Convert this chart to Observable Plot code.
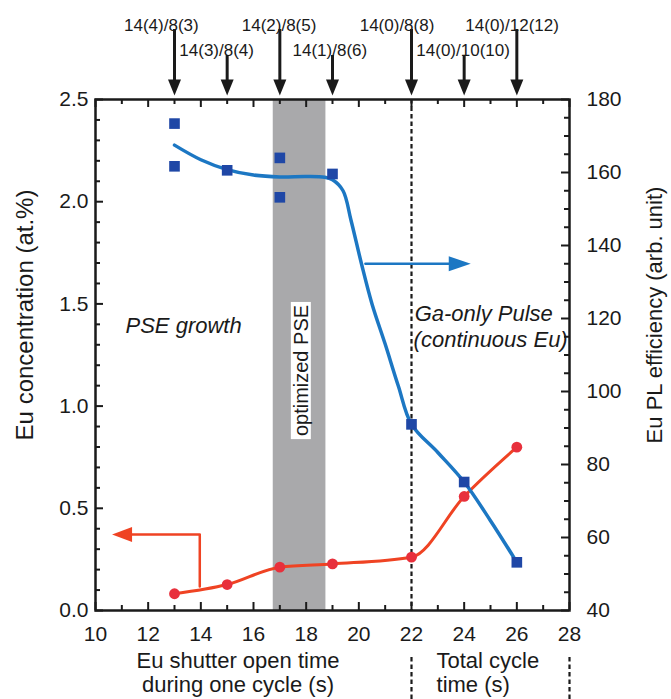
<!DOCTYPE html>
<html><head><meta charset="utf-8">
<script src="https://cdn.jsdelivr.net/npm/d3@7"></script>
<script src="https://cdn.jsdelivr.net/npm/@observablehq/plot@0.6"></script>
<style>body{margin:0;background:#fff;}</style>
</head><body><div id="chart"></div>
<script>
// ---- data ----
const euTime = [13, 15, 17, 19, 22, 24, 26];
const euConc = [0.082, 0.127, 0.212, 0.228, 0.261, 0.558, 0.799];

const plTime = [13, 13, 15, 17, 17, 19, 22, 24, 26];
const plEff  = [173.4, 161.7, 160.6, 164.0, 153.2, 159.6, 91.0, 75.2, 53.2];

// fitted (smooth) PL curve
const plFitTime = [13, 14, 15, 16, 17, 18, 18.7, 19.0, 19.4, 19.7, 20.1, 20.5, 21, 21.5, 22, 23, 24, 25, 26];
const plFitEff  = [167.5, 163.5, 160.8, 159.3, 158.8, 158.9, 158.7, 158.0, 155, 147, 135, 124, 113, 101.5, 91, 83.3, 75.2, 64.6, 53.2];

const xTickLabels = [10, 12, 14, 16, 18, 20, 22, 24, 26, 28];
const leftTickLabels = [0.0, 0.5, 1.0, 1.5, 2.0, 2.5];
const rightTickLabels = [40, 60, 80, 100, 120, 140, 160, 180];

const topLabels = ["14(4)/8(3)", "14(3)/8(4)", "14(2)/8(5)", "14(1)/8(6)", "14(0)/8(8)", "14(0)/10(10)", "14(0)/12(12)"];
const topArrowX = [13, 15, 17, 19, 22, 24, 26];
const topLabelX = [12.5, 14.6, 16.97, 18.9, 21.45, 23.96, 25.82];
const topRow    = [1, 2, 1, 2, 1, 2, 1];

const bandStart = [16.75], bandEnd = [18.75];

// ---- helpers ----
const rightDomain = [40, 180], leftDomain = [0, 2.5];
const toLeft = v => (v - rightDomain[0]) / (rightDomain[1] - rightDomain[0]) * (leftDomain[1] - leftDomain[0]);
const fromLeft = v => v / (leftDomain[1] - leftDomain[0]) * (rightDomain[1] - rightDomain[0]) + rightDomain[0];

const W = 671, H = 699, mL = 95, mR = 102, mT = 99, mB = 89;
const plotW = W - mL - mR, plotH = H - mT - mB;

const red = [], blue = [], blueFit = [], tops = [];
euTime.forEach((t, i) => red.push({x: t, y: euConc[i]}));
plTime.forEach((t, i) => blue.push({x: t, y: toLeft(plEff[i])}));
plFitTime.forEach((t, i) => blueFit.push({x: t, y: toLeft(plFitEff[i])}));
topLabels.forEach((s, i) => tops.push({label: s, ax: topArrowX[i], lx: topLabelX[i], row: topRow[i]}));

const downHead  = {draw(c){ c.moveTo(-6.5,-16); c.lineTo(6.5,-16); c.lineTo(0,0); c.closePath(); }};
const rightHead = {draw(c){ c.moveTo(0,0); c.lineTo(-22,-7.5); c.lineTo(-22,7.5); c.closePath(); }};
const leftHead  = {draw(c){ c.moveTo(0,0); c.lineTo(20,-7.5); c.lineTo(20,7.5); c.closePath(); }};

const BLUE_LINE = "#1c77c3", BLUE_PT = "#1f47a6", RED_LINE = "#ef4323", RED_PT = "#e8303c", INK = "#1a1a1a";
const FONT = "'Liberation Sans', Arial, Helvetica, sans-serif";

const chart = Plot.plot({
  width: W, height: H,
  marginLeft: mL, marginRight: mR, marginTop: mT, marginBottom: mB,
  style: {fontFamily: FONT, fontSize: "21px", color: INK, background: "#fff", overflow: "visible"},
  x: {domain: [10, 28]},
  y: {domain: leftDomain},
  marks: [
    // optimized PSE band
    Plot.rect(bandStart.map((s, i) => ({x1: s, x2: bandEnd[i]})), {x1: "x1", x2: "x2", fill: "#a9a9ab"}),
    // dashed separator
    Plot.ruleX([22], {stroke: INK, strokeWidth: 2.2, strokeDasharray: "4.5,3"}),
    Plot.tickX([22, 28], {stroke: INK, strokeWidth: 2.2, strokeDasharray: "4.5,3", insetTop: plotH + 47, insetBottom: -mB}),
    // red series
    Plot.line(red, {x: "x", y: "y", stroke: RED_LINE, strokeWidth: 3, curve: "monotone-x"}),
    // blue fitted curve
    Plot.line(blueFit, {x: "x", y: "y", stroke: BLUE_LINE, strokeWidth: 3.5, curve: "catmull-rom"}),
    Plot.dot(red, {x: "x", y: "y", r: 5.4, fill: RED_PT, stroke: "none"}),
    Plot.dot(blue, {x: "x", y: "y", r: 6, symbol: "square", fill: BLUE_PT, stroke: "none"}),
    // red arrow (points to left axis)
    Plot.line([{x: 13.96, y: 0.117}, {x: 13.96, y: 0.372}, {x: 11.3, y: 0.372}], {x: "x", y: "y", stroke: RED_LINE, strokeWidth: 2.5, curve: "linear"}),
    Plot.dot([{x: 10.63, y: 0.372}], {x: "x", y: "y", symbol: leftHead, fill: RED_LINE, stroke: "none"}),
    // blue arrow (points to right axis)
    Plot.line([{x: 20.25, y: toLeft(135)}, {x: 23.5, y: toLeft(135)}], {x: "x", y: "y", stroke: BLUE_LINE, strokeWidth: 2.5}),
    Plot.dot([{x: 24.25, y: toLeft(135)}], {x: "x", y: "y", symbol: rightHead, fill: BLUE_LINE, stroke: "none"}),
    // frame
    Plot.frame({stroke: INK, strokeWidth: 2.5}),
    // inward ticks
    Plot.tickX(xTickLabels, {x: d => d, stroke: INK, strokeWidth: 2, insetTop: plotH - 8}),
    Plot.tickX(d3.range(11, 28, 2), {x: d => d, stroke: INK, strokeWidth: 2, insetTop: plotH - 5}),
    Plot.tickX(xTickLabels, {x: d => d, stroke: INK, strokeWidth: 2, insetBottom: plotH - 8}),
    Plot.tickX(d3.range(11, 28, 2), {x: d => d, stroke: INK, strokeWidth: 2, insetBottom: plotH - 5}),
    Plot.tickY(leftTickLabels, {y: d => d, stroke: INK, strokeWidth: 2, insetRight: plotW - 8}),
    Plot.tickY(d3.range(0.1, 2.5, 0.1).filter(v => Math.abs(v * 2 - Math.round(v * 2)) > 1e-6), {y: d => d, stroke: INK, strokeWidth: 2, insetRight: plotW - 5}),
    Plot.tickY(rightTickLabels.map(toLeft), {y: d => d, stroke: INK, strokeWidth: 2, insetLeft: plotW - 8}),
    Plot.tickY(d3.range(45, 180, 5).filter(v => v % 20 !== 0).map(toLeft), {y: d => d, stroke: INK, strokeWidth: 2, insetLeft: plotW - 5}),
    // axes labels
    Plot.axisX(xTickLabels, {anchor: "bottom", tickSize: 0, tickPadding: 16, fontSize: 21, label: null, tickFormat: d => String(d)}),
    Plot.axisY(leftTickLabels, {anchor: "left", tickSize: 0, tickPadding: 7, fontSize: 21, label: null, tickFormat: d3.format(".1f")}),
    Plot.axisY(rightTickLabels.map(toLeft), {anchor: "right", tickSize: 0, tickPadding: 17, fontSize: 21, label: null, tickFormat: v => String(Math.round(fromLeft(v)))}),
    // axis titles
    Plot.text(["Eu concentration (at.%)"], {frameAnchor: "left", textAnchor: "middle", dx: -70, dy: -40, rotate: -90, fontSize: 24, fill: INK}),
    Plot.text(["Eu PL efficiency (arb. unit)"], {frameAnchor: "right", textAnchor: "middle", dx: 85, dy: -40, rotate: -90, fontSize: 22, fill: INK}),
    Plot.text(["Eu shutter open time\nduring one cycle (s)"], {x: 15.41, frameAnchor: "bottom", lineAnchor: "top", dy: 40, lineHeight: 1.09, fontSize: 22, fill: INK}),
    Plot.text(["Total cycle\ntime (s)"], {x: 22.95, frameAnchor: "bottom", lineAnchor: "top", textAnchor: "start", dy: 40, lineHeight: 1.09, fontSize: 22, fill: INK}),
    // annotations
    Plot.text(["PSE growth"], {x: 11.14, y: 1.394, textAnchor: "start", fontSize: 22, fontStyle: "italic", fill: INK}),
    Plot.text(["Ga-only Pulse"], {x: 22.12, y: 1.45, textAnchor: "start", fontSize: 22, fontStyle: "italic", fill: INK}),
    Plot.text(["(continuous Eu)"], {x: 22.08, y: 1.326, textAnchor: "start", fontSize: 22, fontStyle: "italic", fill: INK}),
    Plot.text(["optimized PSE"], {x: 17.82, y: 1.174, rotate: -90, fontSize: 20, fill: INK}),
    // top arrows and labels
    Plot.tickX(tops.filter(d => d.row === 1), {x: "ax", stroke: INK, strokeWidth: 3, insetTop: -70, insetBottom: plotH + 12}),
    Plot.tickX(tops.filter(d => d.row === 2), {x: "ax", stroke: INK, strokeWidth: 3, insetTop: -44, insetBottom: plotH + 12}),
    Plot.dot(tops, {x: "ax", frameAnchor: "top", dy: -4, symbol: downHead, fill: INK, stroke: "none"}),
    Plot.text(tops.filter(d => d.row === 1), {x: "lx", text: "label", frameAnchor: "top", dy: -81, fontSize: 17, fill: INK}),
    Plot.text(tops.filter(d => d.row === 2), {x: "lx", text: "label", frameAnchor: "top", dy: -56, fontSize: 17, fill: INK})
  ]
});
document.getElementById("chart").appendChild(chart);

// white box behind the rotated "optimized PSE" label
const t = Array.from(chart.querySelectorAll("text")).find(e => e.textContent === "optimized PSE");
if (t) {
  const bb = t.getBBox();
  const rect = document.createElementNS("http://www.w3.org/2000/svg", "rect");
  rect.setAttribute("x", bb.x - 3);
  rect.setAttribute("y", bb.y + 1);
  rect.setAttribute("width", bb.width + 6);
  rect.setAttribute("height", bb.height - 2);
  rect.setAttribute("fill", "#fff");
  if (t.getAttribute("transform")) rect.setAttribute("transform", t.getAttribute("transform"));
  t.parentNode.insertBefore(rect, t);
}
</script>
</body></html>
